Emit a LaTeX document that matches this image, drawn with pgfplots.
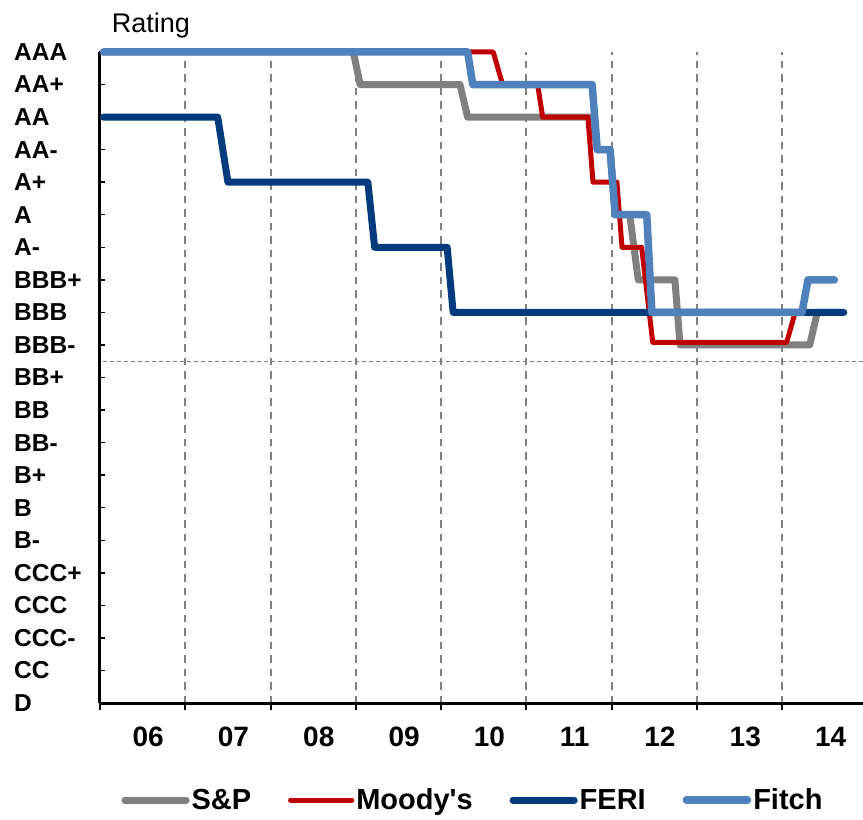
\documentclass[border=0pt]{standalone}
\usepackage{pgfplots}
\pgfplotsset{compat=1.18}
\usepackage{fontspec}
\setmainfont{Liberation Sans}
\definecolor{spgray}{HTML}{808080}
\definecolor{mred}{HTML}{C00000}
\definecolor{feri}{HTML}{003C7D}
\definecolor{fitch}{HTML}{4F81BD}
\definecolor{gridgray}{HTML}{808080}
\begin{document}
\begin{tikzpicture}
\useasboundingbox (-100pt,-117pt) rectangle (763pt,703pt);
\begin{axis}[
  at={(0pt,0pt)}, anchor=south west,
  scale only axis, width=763pt, height=651pt,
  xmin=2006, xmax=2014.945, ymin=0, ymax=20,
  clip=false,
  axis x line=bottom, axis y line=left,
  axis line style={-, line width=3pt, black},
  tick align=outside, major tick length=7pt,
  xtick={2006,...,2014}, xticklabels={},
  xtick style={line width=2pt, black},
  extra x ticks={2006.565,2007.565,2008.565,2009.565,2010.565,2011.565,2012.565,2013.565,2014.565},
  extra x tick labels={06,07,08,09,10,11,12,13,14},
  extra x tick style={major tick length=0pt, grid=none},
  xticklabel style={anchor=north, inner sep=0pt, yshift=-24pt, font=\fontsize{28}{28}\selectfont\bfseries},
  xmajorgrids,
  major grid style={gridgray, line width=2pt, dash pattern=on 7.5pt off 6pt},
  ytick={0,...,20},
  yticklabels={D,CC,CCC-,CCC,CCC+,B-,B,B+,BB-,BB,BB+,BBB-,BBB,BBB+,A-,A,A+,AA-,AA,AA+,AAA},
  ytick style={line width=1.5pt, black, xshift=5.5pt},
  yticklabel style={anchor=west, inner sep=0pt, xshift=-79pt, font=\fontsize{24.5}{25}\selectfont\bfseries},
  legend style={at={(0.489,-0.149)}, anchor=center, draw=none, fill=none,
    legend columns=4, font=\fontsize{29}{29}\selectfont\bfseries,
    /tikz/every even column/.append style={column sep=35pt}},
  legend image code/.code={\draw[#1, line cap=round] (0pt,0pt) -- (57pt,0pt); \path (0pt,0pt) -- (61pt,0pt);},
]
\addplot[forget plot, gridgray, line width=1.2pt, dash pattern=on 4pt off 3pt] coordinates {(2006.03,10.5) (2014.945,10.5)};

\addplot[spgray, line width=7pt, line join=round, line cap=round] coordinates {
(2006.04,20) (2008.97,20) (2009.05,19) (2010.22,19) (2010.31,18) (2011.77,18) (2011.83,17)
(2011.98,17) (2012.04,15) (2012.21,15) (2012.31,13) (2012.74,13) (2012.80,11)
(2014.32,11) (2014.41,12) (2014.65,12)};

\addplot[mred, line width=5pt, line join=round, line cap=round] coordinates {
(2006.04,20) (2010.61,20) (2010.72,19) (2011.13,19) (2011.19,18) (2011.72,18) (2011.78,16)
(2012.06,16) (2012.12,14) (2012.35,14) (2012.48,11.08) (2014.05,11.08) (2014.15,12) (2014.65,12)};

\addplot[feri, line width=7pt, line join=round, line cap=round] coordinates {
(2006.04,18) (2007.38,18) (2007.50,16) (2009.14,16) (2009.22,14) (2010.07,14) (2010.14,12) (2014.72,12)};

\addplot[fitch, line width=7.5pt, line join=round, line cap=round] coordinates {
(2006.04,20) (2010.31,20) (2010.37,19) (2011.77,19) (2011.83,17) (2011.98,17) (2012.04,15)
(2012.41,15) (2012.47,12) (2014.23,12) (2014.30,13) (2014.61,13)};

\legend{S\&P, Moody\textquotesingle s, FERI, Fitch}
\node[anchor=base, font=\fontsize{27}{27}\selectfont] at (rel axis cs:0.0668,1.0292) {Rating};
\end{axis}
\end{tikzpicture}
\end{document}
